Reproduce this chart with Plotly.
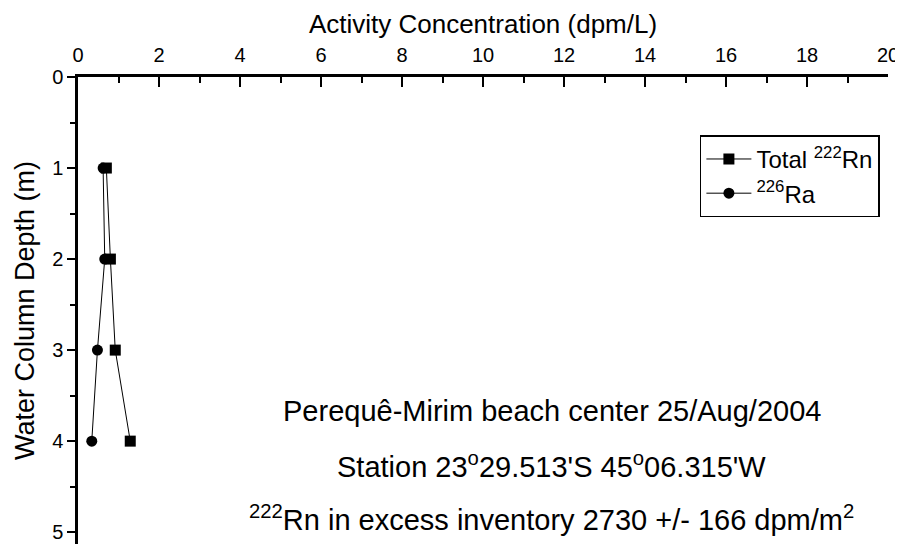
import plotly.graph_objects as go

# depth (m) and activity concentration (dpm/L)
depth = [1, 2, 3, 4]
rn_total = [0.70, 0.80, 0.92, 1.29]
ra_226 = [0.62, 0.66, 0.48, 0.34]

x_ticks = list(range(0, 21, 2))
y_ticks = [0, 1, 2, 3, 4, 5]

notes = [
    "Perequê-Mirim beach center 25/Aug/2004",
    "Station 23<sup>o</sup>29.513'S 45<sup>o</sup>06.315'W",
    "<sup>222</sup>Rn in excess inventory 2730 +/- 166 dpm/m<sup>2</sup>",
]
note_depths = [3.67, 4.26, 4.84]

FONT = "Liberation Sans, Arial, sans-serif"

fig = go.Figure()
fig.add_trace(go.Scatter(
    x=rn_total, y=depth, mode="lines+markers", name="Total <sup>222</sup>Rn",
    line=dict(color="black", width=1),
    marker=dict(symbol="square", size=11, color="black"),
))
fig.add_trace(go.Scatter(
    x=ra_226, y=depth, mode="lines+markers", name="<sup>226</sup>Ra",
    line=dict(color="black", width=1),
    marker=dict(symbol="circle", size=11, color="black"),
))

for txt, d in zip(notes, note_depths):
    fig.add_annotation(x=0.585, xref="paper", y=d, yref="y", text=txt,
                       showarrow=False, font=dict(size=29, color="black"))

# the page puts the figure 8px in from the top-left corner, so size it to fit the window
fig.update_layout(
    width=895, height=536,
    paper_bgcolor="white", plot_bgcolor="white",
    font=dict(family=FONT, color="black", size=20),
    margin=dict(l=70, r=15, t=69, b=0),
    showlegend=True,
    legend=dict(
        x=0.99, xanchor="right", y=0.875, yanchor="top",
        bordercolor="black", borderwidth=1.5, bgcolor="white",
        font=dict(size=24), itemwidth=45, tracegroupgap=0,
    ),
)
fig.update_xaxes(
    side="top", range=[0, 20], tickvals=x_ticks,
    title=dict(text="Activity Concentration (dpm/L)", font=dict(size=26), standoff=4),
    showline=True, linecolor="black", linewidth=2.5,
    showgrid=False, zeroline=False,
    ticks="inside", ticklen=10, tickwidth=2, tickcolor="black",
    ticklabelstandoff=4,
    minor=dict(dtick=1, ticks="inside", ticklen=6, tickwidth=2, tickcolor="black"),
)
fig.update_yaxes(
    range=[5.13, 0], tickvals=y_ticks,
    title=dict(text="Water Column Depth (m)", font=dict(size=27), standoff=10),
    showline=True, linecolor="black", linewidth=2.5,
    showgrid=False, zeroline=False,
    ticks="outside", ticklen=8, tickwidth=2, tickcolor="black",
    minor=dict(dtick=0.5, ticks="outside", ticklen=5, tickwidth=2, tickcolor="black"),
)

fig.write_html("out.html")
